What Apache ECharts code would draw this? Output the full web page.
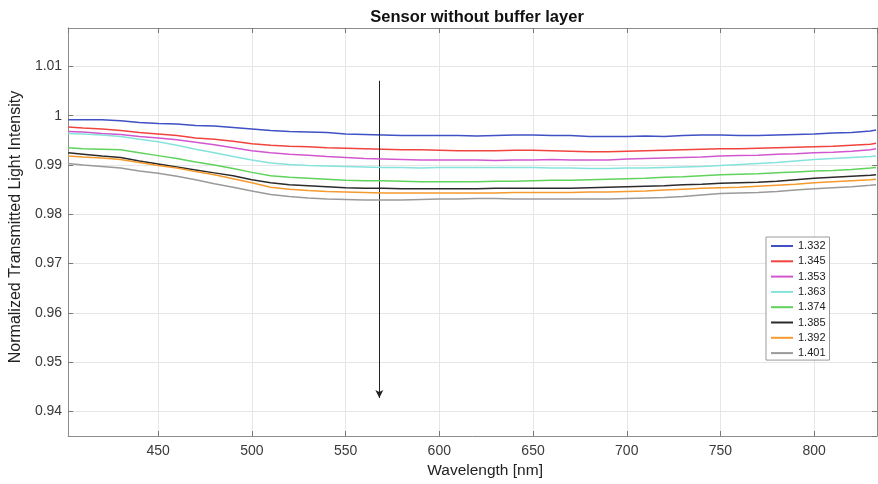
<!DOCTYPE html>
<html>
<head>
<meta charset="utf-8">
<title>Sensor without buffer layer</title>
<script src="https://cdn.jsdelivr.net/npm/echarts@6/dist/echarts.min.js"></script>
<style>
  html, body { margin: 0; padding: 0; background: #fff; }
  #chart { width: 878px; height: 484px; }
</style>
</head>
<body>
<div id="chart"></div>
<script>
// Wavelength grid (nm)
const wavelengths = [402, 410, 420, 430, 440, 450, 460, 470, 480, 490, 500, 510, 520, 530, 540, 550, 560, 570, 580, 590, 600, 610, 620, 630, 640, 650, 660, 670, 680, 690, 700, 710, 720, 730, 740, 750, 760, 770, 780, 790, 800, 810, 820, 830, 833];

// Refractive index of the surrounding medium, one curve each
const indices = ['1.332', '1.345', '1.353', '1.363', '1.374', '1.385', '1.392', '1.401'];

// Normalized transmitted intensity for each refractive index
const t1332 = [0.9992, 0.9992, 0.9992, 0.9990, 0.9986, 0.9984, 0.9983, 0.9980, 0.9979, 0.9976, 0.9973, 0.9970, 0.9968, 0.9967, 0.9966, 0.9963, 0.9962, 0.9961, 0.9960, 0.9960, 0.9960, 0.9960, 0.9959, 0.9960, 0.9961, 0.9961, 0.9960, 0.9960, 0.9958, 0.9958, 0.9958, 0.9959, 0.9958, 0.9960, 0.9961, 0.9961, 0.9960, 0.9960, 0.9961, 0.9962, 0.9963, 0.9965, 0.9966, 0.9969, 0.9971];
const t1345 = [0.9977, 0.9975, 0.9973, 0.9970, 0.9966, 0.9963, 0.9960, 0.9955, 0.9952, 0.9948, 0.9943, 0.9940, 0.9938, 0.9937, 0.9935, 0.9934, 0.9933, 0.9932, 0.9931, 0.9931, 0.9930, 0.9929, 0.9929, 0.9929, 0.9930, 0.9930, 0.9929, 0.9928, 0.9927, 0.9927, 0.9928, 0.9929, 0.9930, 0.9931, 0.9932, 0.9933, 0.9933, 0.9934, 0.9935, 0.9936, 0.9937, 0.9938, 0.9940, 0.9942, 0.9944];
const t1353 = [0.9968, 0.9967, 0.9964, 0.9962, 0.9958, 0.9955, 0.9951, 0.9946, 0.9941, 0.9935, 0.9929, 0.9925, 0.9922, 0.9920, 0.9917, 0.9915, 0.9913, 0.9912, 0.9911, 0.9910, 0.9910, 0.9910, 0.9910, 0.9909, 0.9910, 0.9910, 0.9911, 0.9910, 0.9910, 0.9910, 0.9912, 0.9913, 0.9914, 0.9915, 0.9916, 0.9918, 0.9919, 0.9920, 0.9922, 0.9923, 0.9925, 0.9926, 0.9928, 0.9931, 0.9933];
const t1363 = [0.9964, 0.9963, 0.9961, 0.9958, 0.9952, 0.9947, 0.9940, 0.9932, 0.9925, 0.9917, 0.9910, 0.9904, 0.9901, 0.9899, 0.9898, 0.9897, 0.9896, 0.9895, 0.9895, 0.9894, 0.9895, 0.9895, 0.9895, 0.9895, 0.9895, 0.9895, 0.9894, 0.9894, 0.9893, 0.9893, 0.9894, 0.9894, 0.9895, 0.9896, 0.9897, 0.9899, 0.9901, 0.9903, 0.9905, 0.9908, 0.9911, 0.9913, 0.9915, 0.9917, 0.9918];
const t1374 = [0.9935, 0.9933, 0.9932, 0.9931, 0.9925, 0.9919, 0.9913, 0.9906, 0.9900, 0.9893, 0.9885, 0.9878, 0.9875, 0.9873, 0.9871, 0.9869, 0.9868, 0.9868, 0.9867, 0.9866, 0.9866, 0.9866, 0.9866, 0.9867, 0.9867, 0.9868, 0.9869, 0.9869, 0.9870, 0.9871, 0.9872, 0.9873, 0.9875, 0.9876, 0.9878, 0.9880, 0.9881, 0.9882, 0.9884, 0.9886, 0.9888, 0.9889, 0.9891, 0.9894, 0.9895];
const t1385 = [0.9925, 0.9922, 0.9918, 0.9915, 0.9908, 0.9902, 0.9896, 0.9890, 0.9884, 0.9878, 0.9870, 0.9864, 0.9860, 0.9858, 0.9856, 0.9854, 0.9853, 0.9853, 0.9852, 0.9852, 0.9852, 0.9852, 0.9852, 0.9853, 0.9853, 0.9853, 0.9853, 0.9853, 0.9854, 0.9855, 0.9856, 0.9857, 0.9858, 0.9860, 0.9861, 0.9863, 0.9864, 0.9865, 0.9867, 0.9870, 0.9873, 0.9875, 0.9877, 0.9879, 0.9880];
const t1392 = [0.9918, 0.9916, 0.9914, 0.9911, 0.9905, 0.9899, 0.9894, 0.9887, 0.9880, 0.9872, 0.9864, 0.9855, 0.9851, 0.9848, 0.9846, 0.9845, 0.9844, 0.9843, 0.9843, 0.9843, 0.9843, 0.9843, 0.9843, 0.9843, 0.9844, 0.9844, 0.9844, 0.9844, 0.9845, 0.9845, 0.9846, 0.9847, 0.9849, 0.9851, 0.9853, 0.9854, 0.9855, 0.9857, 0.9859, 0.9861, 0.9864, 0.9866, 0.9868, 0.9870, 0.9871];
const t1401 = [0.9903, 0.9900, 0.9897, 0.9894, 0.9888, 0.9883, 0.9877, 0.9870, 0.9862, 0.9855, 0.9847, 0.9840, 0.9836, 0.9833, 0.9831, 0.9830, 0.9829, 0.9829, 0.9829, 0.9830, 0.9831, 0.9831, 0.9832, 0.9832, 0.9831, 0.9831, 0.9831, 0.9831, 0.9831, 0.9831, 0.9832, 0.9833, 0.9834, 0.9836, 0.9839, 0.9842, 0.9843, 0.9844, 0.9846, 0.9849, 0.9852, 0.9854, 0.9856, 0.9859, 0.9860];

const curves = [t1332, t1345, t1353, t1363, t1374, t1385, t1392, t1401];
const colors = ['#3f51c4', '#f0443f', '#d257cf', '#86e3dc', '#5fd35c', '#2b2b2b', '#f59a2e', '#9a9a9a'];

// Axis ranges and tick steps
const xRange = [402, 833.5];
const yRange = [0.935, 1.0178];
const xStep = 50;
const yStep = 0.01;

// Arrow marking the direction of increasing refractive index
const arrowWavelength = 568;
const arrowFrom = 1.0071;
const arrowTo = 0.9427;

const FONT = '"Liberation Sans", Arial, Helvetica, sans-serif';

const series = indices.map((name, i) => ({
  name: name,
  type: 'line',
  data: wavelengths.map((w, k) => [w, curves[i][k]]),
  showSymbol: false,
  symbol: 'none',
  lineStyle: { width: 1.5, color: colors[i] },
  itemStyle: { color: colors[i] },
  z: 3 + i
}));

series.push({
  name: 'arrow',
  type: 'line',
  data: [],
  silent: true,
  markLine: {
    silent: true,
    animation: false,
    symbol: ['none', 'arrow'],
    symbolSize: [6, 8],
    label: { show: false },
    lineStyle: { color: '#222', width: 1, type: 'solid' },
    emphasis: { disabled: true },
    data: [[
      { coord: [arrowWavelength, arrowFrom] },
      { coord: [arrowWavelength, arrowTo] }
    ]]
  },
  z: 20
});

const boxLine = { show: true, lineStyle: { color: '#8c8c8c', width: 1 } };
const innerTick = { show: true, inside: true, length: 5, lineStyle: { color: '#777' } };

const chart = echarts.init(document.getElementById('chart'), null, { renderer: 'canvas' });
chart.setOption({
  animation: false,
  backgroundColor: '#fff',
  textStyle: { fontFamily: FONT },
  title: {
    text: 'Sensor without buffer layer',
    left: 472,
    top: 4,
    textAlign: 'center',
    textStyle: { fontFamily: FONT, fontSize: 16.5, fontWeight: 'bold', color: '#111' }
  },
  grid: { left: 65, right: 1, top: 28, bottom: 48, containLabel: false },
  legend: {
    data: indices,
    orient: 'vertical',
    left: 766,
    top: 237,
    padding: [3, 4, 1, 5],
    itemWidth: 22,
    itemHeight: 2,
    itemGap: 3.3,
    icon: 'rect',
    backgroundColor: '#fff',
    borderColor: '#9a9a9a',
    borderWidth: 1,
    textStyle: { fontFamily: FONT, fontSize: 11, color: '#222', lineHeight: 12 }
  },
  xAxis: [{
    type: 'value',
    position: 'bottom',
    min: xRange[0],
    max: xRange[1],
    minInterval: xStep,
    maxInterval: xStep,
    splitNumber: 9,
    axisLine: boxLine,
    axisTick: innerTick,
    axisLabel: {
      fontFamily: FONT, fontSize: 14, color: '#3a3a3a', margin: 8,
      showMinLabel: false, showMaxLabel: false,
      formatter: v => (Math.abs(v % xStep) < 1e-9 ? String(v) : '')
    },
    splitLine: { show: true, lineStyle: { color: '#e6e6e6', width: 1 } },
    name: 'Wavelength [nm]',
    nameLocation: 'middle',
    nameGap: 26,
    nameTextStyle: { fontFamily: FONT, fontSize: 15.5, color: '#222', padding: [0, 0, 0, 25] }
  }, {
    type: 'value',
    position: 'top',
    min: xRange[0],
    max: xRange[1],
    minInterval: xStep,
    maxInterval: xStep,
    splitNumber: 9,
    axisLine: boxLine,
    axisTick: innerTick,
    axisLabel: { show: false },
    splitLine: { show: false }
  }],
  yAxis: [{
    type: 'value',
    position: 'left',
    min: yRange[0],
    max: yRange[1],
    minInterval: yStep,
    maxInterval: yStep,
    splitNumber: 8,
    axisLine: boxLine,
    axisTick: innerTick,
    axisLabel: {
      fontFamily: FONT, fontSize: 14, color: '#3a3a3a', margin: 6,
      showMinLabel: false, showMaxLabel: false,
      formatter: v => {
        const r = Math.round(v / yStep) * yStep;
        return Math.abs(v - r) < 1e-9 ? String(+r.toFixed(2)) : '';
      }
    },
    splitLine: { show: true, lineStyle: { color: '#e6e6e6', width: 1 } },
    name: 'Normalized Transmitted Light Intensity',
    nameLocation: 'middle',
    nameGap: 43,
    nameTextStyle: { fontFamily: FONT, fontSize: 16, color: '#222', padding: [0, 0, 0, 10] }
  }, {
    type: 'value',
    position: 'right',
    min: yRange[0],
    max: yRange[1],
    minInterval: yStep,
    maxInterval: yStep,
    splitNumber: 8,
    axisLine: boxLine,
    axisTick: innerTick,
    axisLabel: { show: false },
    splitLine: { show: false }
  }],
  series: series
});
</script>
</body>
</html>
